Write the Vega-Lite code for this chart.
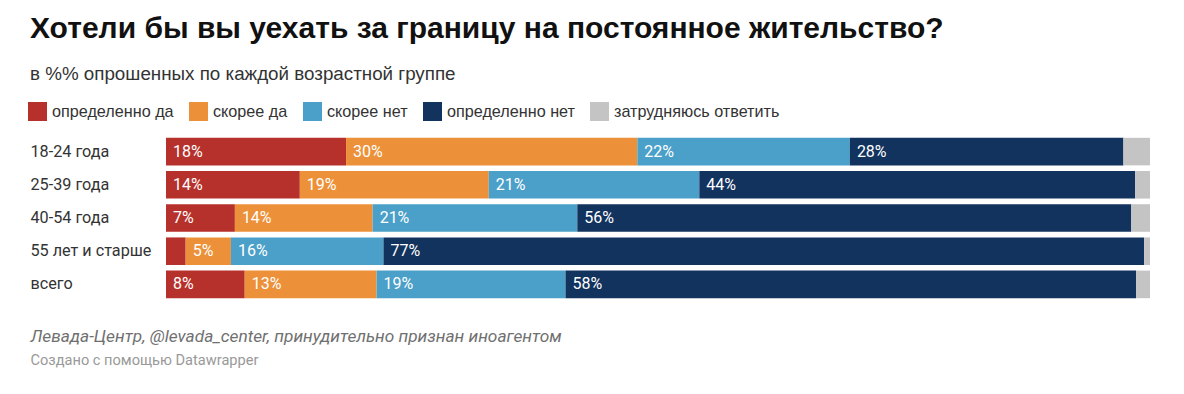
{
  "$schema": "https://vega.github.io/schema/vega-lite/v6.json",
  "width": 984,
  "height": 166,
  "autosize": {"type": "none"},
  "padding": {"left": 166, "top": 135, "right": 34, "bottom": 93},
  "background": "white",
  "config": {"view": {"stroke": null}},
  "title": {
    "text": "Хотели бы вы уехать за границу на постоянное жительство?",
    "subtitle": "в %% опрошенных по каждой возрастной группе",
    "anchor": "start",
    "frame": "group",
    "dx": -136,
    "offset": 18,
    "font": "Liberation Sans",
    "fontSize": 30,
    "fontWeight": "bold",
    "color": "#111111",
    "subtitleFont": "Liberation Sans",
    "subtitleFontSize": 18.8,
    "subtitleColor": "#333333",
    "subtitlePadding": 21
  },
  "data": {
    "values": [
      {"group": "18-24 года", "answer": "определенно да", "k": 1, "share": 0.183},
      {"group": "18-24 года", "answer": "скорее да", "k": 2, "share": 0.296},
      {"group": "18-24 года", "answer": "скорее нет", "k": 3, "share": 0.216},
      {"group": "18-24 года", "answer": "определенно нет", "k": 4, "share": 0.278},
      {"group": "18-24 года", "answer": "затрудняюсь ответить", "k": 5, "share": 0.027},
      {"group": "25-39 года", "answer": "определенно да", "k": 1, "share": 0.136},
      {"group": "25-39 года", "answer": "скорее да", "k": 2, "share": 0.192},
      {"group": "25-39 года", "answer": "скорее нет", "k": 3, "share": 0.214},
      {"group": "25-39 года", "answer": "определенно нет", "k": 4, "share": 0.443},
      {"group": "25-39 года", "answer": "затрудняюсь ответить", "k": 5, "share": 0.015},
      {"group": "40-54 года", "answer": "определенно да", "k": 1, "share": 0.070},
      {"group": "40-54 года", "answer": "скорее да", "k": 2, "share": 0.140},
      {"group": "40-54 года", "answer": "скорее нет", "k": 3, "share": 0.208},
      {"group": "40-54 года", "answer": "определенно нет", "k": 4, "share": 0.563},
      {"group": "40-54 года", "answer": "затрудняюсь ответить", "k": 5, "share": 0.019},
      {"group": "55 лет и старше", "answer": "определенно да", "k": 1, "share": 0.020},
      {"group": "55 лет и старше", "answer": "скорее да", "k": 2, "share": 0.046},
      {"group": "55 лет и старше", "answer": "скорее нет", "k": 3, "share": 0.155},
      {"group": "55 лет и старше", "answer": "определенно нет", "k": 4, "share": 0.773},
      {"group": "55 лет и старше", "answer": "затрудняюсь ответить", "k": 5, "share": 0.006},
      {"group": "всего", "answer": "определенно да", "k": 1, "share": 0.080},
      {"group": "всего", "answer": "скорее да", "k": 2, "share": 0.134},
      {"group": "всего", "answer": "скорее нет", "k": 3, "share": 0.192},
      {"group": "всего", "answer": "определенно нет", "k": 4, "share": 0.580},
      {"group": "всего", "answer": "затрудняюсь ответить", "k": 5, "share": 0.014}
    ]
  },
  "transform": [
    {"stack": "share", "groupby": ["group"], "sort": [{"field": "k", "order": "ascending"}], "as": ["x0", "x1"]}
  ],
  "encoding": {
    "y": {
      "field": "group",
      "type": "nominal",
      "sort": ["18-24 года", "25-39 года", "40-54 года", "55 лет и старше", "всего"],
      "scale": {"paddingInner": 0.17, "paddingOuter": 0.085},
      "axis": {
        "title": "Создано с помощью Datawrapper",
        "titleAngle": 0,
        "titleX": -136,
        "titleY": 229,
        "titleAlign": "left",
        "titleAnchor": null,
        "titleBaseline": "alphabetic",
        "titleFont": "Roboto",
        "titleFontSize": 14.6,
        "titleFontWeight": "normal",
        "titleColor": "#999999",
        "labelAlign": "left",
        "labelPadding": 136,
        "ticks": false,
        "tickSize": 0,
        "domain": false,
        "labelFont": "Roboto",
        "labelFontSize": 16.2,
        "labelColor": "#333333"
      }
    },
    "x": {
      "field": "x0",
      "type": "quantitative",
      "scale": {"domain": [0, 1], "nice": false, "zero": true},
      "axis": {
        "title": "Левада-Центр, @levada_center, принудительно признан иноагентом",
        "labels": false,
        "ticks": false,
        "tickSize": 0,
        "domain": false,
        "grid": false,
        "titleX": -136,
        "titleY": 40,
        "titleAlign": "left",
        "titleAnchor": null,
        "titleBaseline": "alphabetic",
        "titleFont": "Roboto",
        "titleFontSize": 17.3,
        "titleFontStyle": "italic",
        "titleFontWeight": "normal",
        "titleColor": "#707070"
      }
    }
  },
  "layer": [
    {
      "mark": {"type": "bar"},
      "encoding": {
        "x2": {"field": "x1"},
        "color": {
          "field": "answer",
          "type": "nominal",
          "scale": {
            "domain": ["определенно да", "скорее да", "скорее нет", "определенно нет", "затрудняюсь ответить"],
            "range": ["#b7312c", "#ec9139", "#4aa0c9", "#12335e", "#c4c4c4"]
          },
          "legend": {
            "title": null,
            "orient": "none",
            "legendX": -138,
            "legendY": -33,
            "direction": "horizontal",
            "symbolType": "square",
            "symbolSize": 361,
            "symbolStrokeWidth": 0,
            "symbolOpacity": 1,
            "labelFont": "Liberation Sans",
            "labelFontSize": 16.2,
            "labelColor": "#333333",
            "labelOffset": 5,
            "labelLimit": 300,
            "columnPadding": 15,
            "padding": 0
          }
        }
      }
    },
    {
      "transform": [{"filter": "datum.k < 5 && datum.share >= 0.03"}],
      "mark": {"type": "text", "align": "left", "baseline": "middle", "dx": 7, "font": "Roboto", "fontSize": 16, "color": "white"},
      "encoding": {
        "text": {"field": "share", "type": "quantitative", "format": ".0%"}
      }
    }
  ]
}
